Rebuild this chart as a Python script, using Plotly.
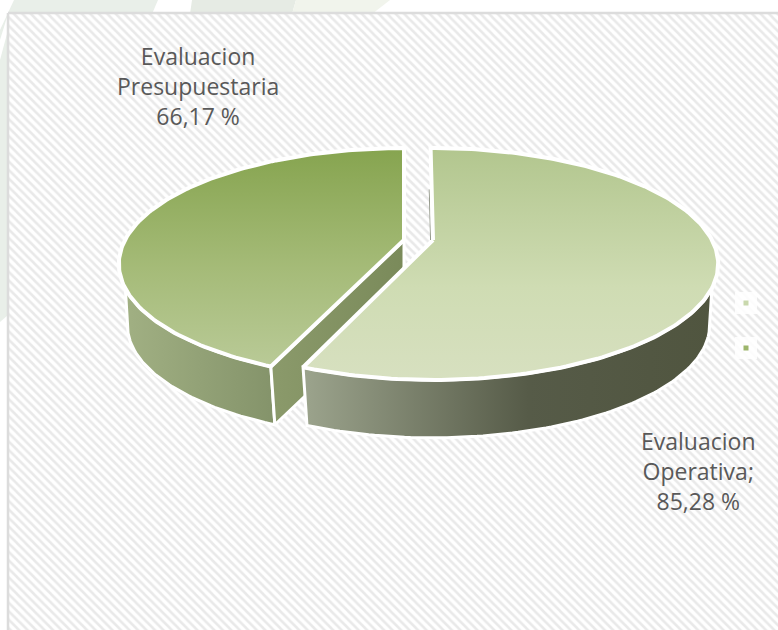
import numpy as np
import plotly.graph_objects as go

# ---- data ----
categories = ["Evaluacion<br>Presupuestaria", "Evaluacion<br>Operativa;"]
values = [66.17, 85.28]
value_labels = ["66,17 %", "85,28 %"]
legend_key_colors = ["#c9d8ad", "#9cb56b"]

# ---- projection of the tilted, exploded pie (pixel canvas) ----
W, H = 778, 630
RX, RY, PERSP = 279.0, 111.0, 0.207
DEPTH, SHRINK = 62.0, 0.97
TIP_LEFT = (404.0, 240.0)
TIP_RIGHT = (433.0, 240.0)
ROT_RIGHT = -0.6
WALL_TOP_LIMIT = 113.0     # degrees from 12 o'clock where the side wall leaves the top rim
WALL_BOTTOM_LIMIT = 105.0  # same, on the lower rim


def project(tip, deg, bottom=False):
    a = np.radians(np.asarray(deg, dtype=float))
    u, v = np.sin(a), -np.cos(a)
    d = 1 - PERSP * v
    s = SHRINK if bottom else 1.0
    return tip[0] + s * RX * u / d, tip[1] + (DEPTH if bottom else 0.0) + s * RY * v / d


total = sum(values)
sweep_right = 360.0 * values[1] / total
split = sweep_right  # clockwise from 12 o'clock: right slice, then left slice

fig = go.Figure()


def poly(x, y, colors, kind, line="white", lw=3.0):
    fig.add_trace(go.Scatter(
        x=list(x), y=list(y), mode="lines", fill="toself",
        line=dict(color=line, width=lw),
        fillgradient=dict(type=kind, colorscale=colors),
        hoverinfo="skip", showlegend=False))


# panel with the diagonal hatch
fig.add_trace(go.Scatter(
    x=[8, W + 5, W + 5, 8, 8], y=[13, 13, H + 5, H + 5, 13],
    mode="lines", fill="toself", line=dict(color="#dcdcdc", width=2.5),
    fillcolor="white",
    fillpattern=dict(shape="\\", fgcolor="#e9e9e9", bgcolor="#ffffff",
                     size=6, solidity=0.42, fillmode="replace"),
    hoverinfo="skip", showlegend=False))

# LEFT slice: outer wall, cut wall, top face
angs = np.linspace(split, 360, 160)
xt, yt = project(TIP_LEFT, angs[angs <= 360 - WALL_TOP_LIMIT])
xb, yb = project(TIP_LEFT, angs[angs <= 360 - WALL_BOTTOM_LIMIT], True)
poly(np.r_[xt, xb[::-1], xt[0]], np.r_[yt, yb[::-1], yt[0]],
     [[0, "#a1b083"], [1, "#84936a"]], "horizontal")

x0, y0 = project(TIP_LEFT, [split])
x1, y1 = project(TIP_LEFT, [split], True)
poly([TIP_LEFT[0], x0[0], x1[0], TIP_LEFT[0], TIP_LEFT[0]],
     [TIP_LEFT[1], y0[0], y1[0], TIP_LEFT[1] + DEPTH, TIP_LEFT[1]],
     [[0, "#8b9a6b"], [1, "#7a8a5a"]], "horizontal")

xf, yf = project(TIP_LEFT, angs)
poly(np.r_[TIP_LEFT[0], xf, TIP_LEFT[0]], np.r_[TIP_LEFT[1], yf, TIP_LEFT[1]],
     [[0, "#b9ca97"], [0.45, "#a5bb78"], [1, "#86a44f"]], "vertical", lw=4)

# RIGHT slice: outer wall, top face
angs = np.linspace(ROT_RIGHT, split + ROT_RIGHT, 200)
xt, yt = project(TIP_RIGHT, angs[angs >= WALL_TOP_LIMIT])
xb, yb = project(TIP_RIGHT, angs[angs >= WALL_BOTTOM_LIMIT], True)
poly(np.r_[xt, xb[::-1], xt[0]], np.r_[yt, yb[::-1], yt[0]],
     [[0, "#9ca48d"], [0.55, "#565b48"], [1, "#50553f"]], "horizontal")

# sliver of the right slice's inner wall seen in the gap
xs, ys = project(TIP_RIGHT, [ROT_RIGHT])
frac = np.array([0.0, 0.55])
fig.add_trace(go.Scatter(
    x=list(TIP_RIGHT[0] - 2.4 + (xs[0] - TIP_RIGHT[0]) * frac),
    y=list(TIP_RIGHT[1] + (ys[0] - TIP_RIGHT[1]) * frac),
    mode="lines", line=dict(color="#8d9283", width=1), hoverinfo="skip", showlegend=False))

xf, yf = project(TIP_RIGHT, angs)
poly(np.r_[TIP_RIGHT[0], xf, TIP_RIGHT[0]], np.r_[TIP_RIGHT[1], yf, TIP_RIGHT[1]],
     [[0, "#d7e0c0"], [0.4, "#cfdcb3"], [1, "#b2c68e"]], "vertical", lw=4)

# legend keys whose text was whited out
key_x = [746, 746]
key_y = [303, 348]
fig.add_trace(go.Scatter(x=key_x, y=key_y, mode="markers",
                         marker=dict(symbol="square", size=22, color="white", opacity=0.85),
                         hoverinfo="skip", showlegend=False))
fig.add_trace(go.Scatter(x=key_x, y=key_y, mode="markers",
                         marker=dict(symbol="square", size=5, color=legend_key_colors),
                         hoverinfo="skip", showlegend=False))

# data labels
label_x = [198, 698]
label_y = [86, 471]
for c, lab, lx, ly in zip(categories, value_labels, label_x, label_y):
    fig.add_annotation(x=lx, y=ly, text=f"{c}<br>{lab}", showarrow=False, align="center",
                       font=dict(family="Open Sans", size=23, color="#595959"))

# pale watermark behind the panel
shapes = [
    dict(type="path", path="M 14 0 L 158 0 L 152 14 L 8 14 L 0 40 L 0 30 Z", fillcolor="#e9efe9", line_width=0, layer="below"),
    dict(type="path", path="M 0 60 L 8 30 L 8 315 L 0 322 Z", fillcolor="#e9efe9", line_width=0, layer="below"),
    dict(type="path", path="M 192 0 L 296 0 L 292 14 L 190 14 Z", fillcolor="#e6ebe4", line_width=0, layer="below"),
    dict(type="path", path="M 296 0 L 390 0 L 372 14 L 292 14 Z", fillcolor="#f1f4ec", line_width=0, layer="below"),
]

fig.update_layout(
    width=W, height=H, margin=dict(l=0, r=0, t=0, b=0),
    paper_bgcolor="white", plot_bgcolor="rgba(0,0,0,0)",
    xaxis=dict(range=[0, W], visible=False, fixedrange=True),
    yaxis=dict(range=[H, 0], visible=False, fixedrange=True),
    shapes=shapes, showlegend=False,
)

fig.write_html("out.html", config={"displayModeBar": False},
               post_script="document.body.style.margin='0';document.body.style.overflow='hidden';")
